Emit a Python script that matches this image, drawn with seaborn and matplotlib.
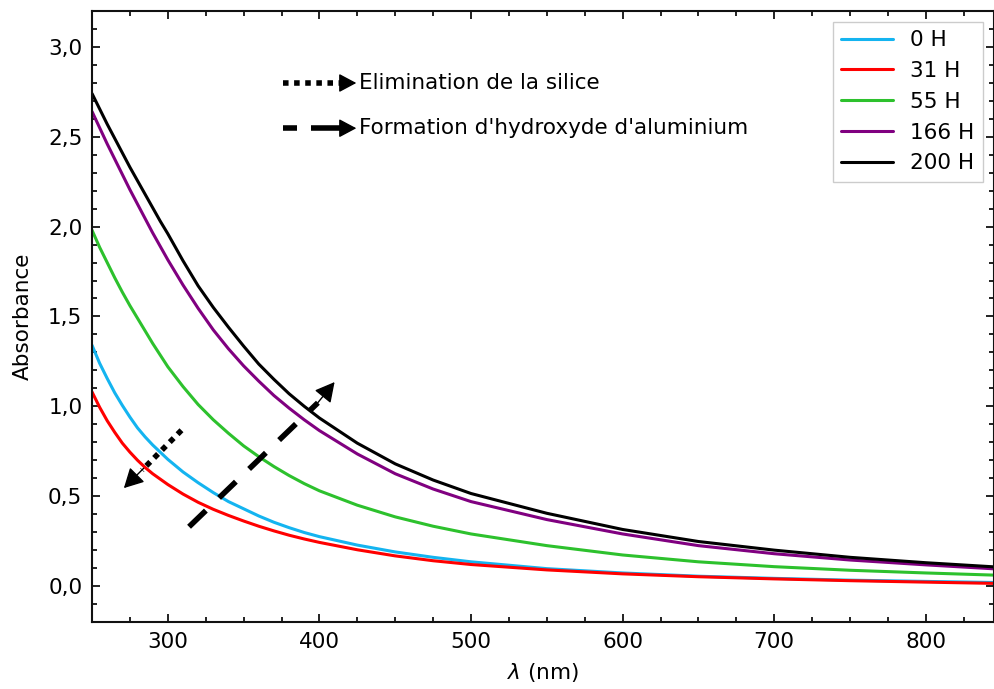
import matplotlib
matplotlib.use('AGG')
import matplotlib.pyplot as plt
from matplotlib.ticker import MultipleLocator, FuncFormatter
import pandas as pd
import seaborn as sns

##################################################################################
# data
##################################################################################
wavelength = [250, 255, 260, 265, 270, 275, 280, 285, 290, 295, 300, 310, 320,
              330, 340, 350, 360, 370, 380, 390, 400, 425, 450, 475, 500, 550,
              600, 650, 700, 750, 800, 845]

abs_0h = [1.34, 1.24, 1.155, 1.075, 1.005, 0.94, 0.88, 0.83, 0.785, 0.745,
          0.705, 0.635, 0.575, 0.52, 0.47, 0.43, 0.39, 0.355, 0.325, 0.298,
          0.275, 0.228, 0.19, 0.16, 0.135, 0.097, 0.073, 0.055, 0.043, 0.033,
          0.026, 0.02]
abs_31h = [1.08, 0.995, 0.92, 0.855, 0.795, 0.745, 0.70, 0.66, 0.625, 0.595,
           0.565, 0.512, 0.466, 0.427, 0.393, 0.362, 0.333, 0.307, 0.283,
           0.262, 0.243, 0.202, 0.168, 0.141, 0.12, 0.09, 0.068, 0.052, 0.04,
           0.03, 0.022, 0.015]
abs_55h = [1.98, 1.885, 1.80, 1.715, 1.635, 1.56, 1.49, 1.42, 1.35, 1.285,
           1.22, 1.11, 1.01, 0.925, 0.85, 0.78, 0.72, 0.665, 0.615, 0.57,
           0.53, 0.45, 0.385, 0.333, 0.29, 0.225, 0.173, 0.135, 0.108, 0.088,
           0.073, 0.061]
abs_166h = [2.64, 2.55, 2.46, 2.375, 2.29, 2.205, 2.125, 2.045, 1.965, 1.89,
            1.815, 1.675, 1.545, 1.425, 1.32, 1.225, 1.14, 1.06, 0.99, 0.925,
            0.865, 0.735, 0.625, 0.54, 0.47, 0.37, 0.29, 0.225, 0.18, 0.145,
            0.118, 0.096]
abs_200h = [2.74, 2.655, 2.57, 2.49, 2.41, 2.33, 2.255, 2.18, 2.105, 2.03,
            1.96, 1.81, 1.67, 1.55, 1.44, 1.335, 1.235, 1.15, 1.07, 1.0,
            0.935, 0.795, 0.68, 0.59, 0.515, 0.405, 0.315, 0.248, 0.20, 0.16,
            0.13, 0.107]

labels = ['0 H', '31 H', '55 H', '166 H', '200 H']
colors = ['#14b4f0', '#ff0000', '#2dc12d', '#800080', '#000000']

# build long table for seaborn
frames = []
for lab, vals in zip(labels, [abs_0h, abs_31h, abs_55h, abs_166h, abs_200h]):
    frames.append(pd.DataFrame({'wl': wavelength, 'A': vals, 'serie': lab}))
plt_data = pd.concat(frames, ignore_index=True)

##################################################################################
# plotting
##################################################################################
sns.set_style('ticks')
plt.rcParams['font.family'] = ['DejaVu Sans']
plt.rcParams['text.color'] = 'black'
plt.rcParams['axes.labelcolor'] = 'black'
plt.rcParams['xtick.color'] = 'black'
plt.rcParams['ytick.color'] = 'black'

fig = plt.figure(figsize=(9.95, 6.89), dpi=100)
ax = fig.add_axes([0.0925, 0.0972, 0.9065, 0.887])

sns.lineplot(data=plt_data, x='wl', y='A', hue='serie', hue_order=labels,
             palette=colors, linewidth=2.2, ax=ax)

ax.set_xlim(250, 845)
ax.set_ylim(-0.2, 3.2)

ax.xaxis.set_major_locator(MultipleLocator(100))
ax.xaxis.set_minor_locator(MultipleLocator(25))
ax.yaxis.set_major_locator(MultipleLocator(0.5))
ax.yaxis.set_minor_locator(MultipleLocator(0.1))
ax.yaxis.set_major_formatter(FuncFormatter(lambda v, p: f'{v:.1f}'.replace('.', ',')))

ax.tick_params(which='both', direction='in', top=True, right=True,
               labelsize=15.5, width=1.3, color='#111111', pad=7)
ax.tick_params(which='major', length=6)
ax.tick_params(which='minor', length=3.5)
for sp in ax.spines.values():
    sp.set_linewidth(1.5)
    sp.set_color('#111111')

ax.set_xlabel(r'$\lambda$ (nm)', fontsize=15.5, labelpad=7)
ax.set_ylabel('Absorbance', fontsize=15.5, labelpad=11)

leg = ax.legend(loc='upper right', fontsize=15.5, handlelength=2.4,
                fancybox=False, framealpha=1, edgecolor='#cccccc')
for ln in leg.get_lines():
    ln.set_linewidth(2.2)

head = '-|>,head_length=0.6,head_width=0.32'

# arrows inside the plot
ax.plot([309, 283], [0.867, 0.645], color='k', lw=4, dashes=(1, 1),
        dash_capstyle='butt')
ax.annotate('', xy=(271, 0.545), xytext=(284, 0.655),
            arrowprops=dict(arrowstyle=head, color='k', lw=1,
                            mutation_scale=20, shrinkA=0, shrinkB=0))
ax.plot([314, 399], [0.33, 1.02], color='k', lw=4, dashes=(4.2, 3.3),
        dash_capstyle='butt')
ax.annotate('', xy=(410, 1.135), xytext=(397, 1.0),
            arrowprops=dict(arrowstyle=head, color='k', lw=1,
                            mutation_scale=20, shrinkA=0, shrinkB=0))

# small legend for the arrows
tr = ax.transAxes
ax.plot([0.212, 0.279], [0.882, 0.882], transform=tr, color='k', lw=4,
        dashes=(1, 1), dash_capstyle='butt')
ax.annotate('', xy=(0.293, 0.882), xytext=(0.276, 0.882), xycoords=tr, textcoords=tr,
            arrowprops=dict(arrowstyle=head, color='k', lw=1,
                            mutation_scale=18, shrinkA=0, shrinkB=0))
ax.plot([0.212, 0.227], [0.808, 0.808], transform=tr, color='k', lw=4,
        solid_capstyle='butt')
ax.plot([0.243, 0.279], [0.808, 0.808], transform=tr, color='k', lw=4,
        solid_capstyle='butt')
ax.annotate('', xy=(0.293, 0.808), xytext=(0.276, 0.808), xycoords=tr, textcoords=tr,
            arrowprops=dict(arrowstyle=head, color='k', lw=1,
                            mutation_scale=18, shrinkA=0, shrinkB=0))
ax.text(0.296, 0.882, 'Elimination de la silice', transform=tr, fontsize=15.5,
        va='center', ha='left')
ax.text(0.296, 0.808, "Formation d'hydroxyde d'aluminium", transform=tr,
        fontsize=15.5, va='center', ha='left')

plt.savefig('out.png', dpi=100)
